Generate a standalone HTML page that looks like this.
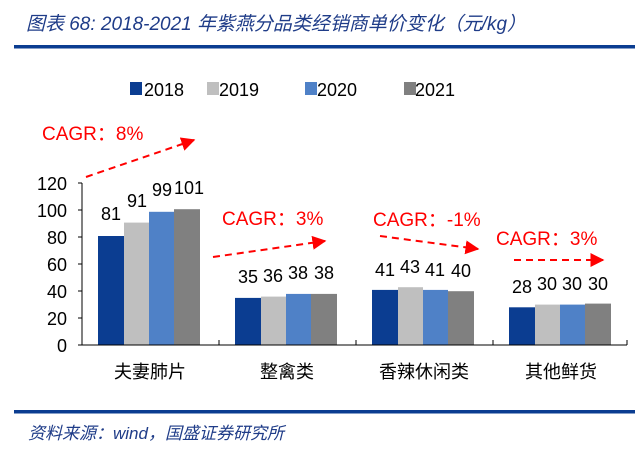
<!DOCTYPE html>
<html><head><meta charset="utf-8"><style>
body{margin:0;background:#fff;}
svg{display:block;}
text{font-family:"Liberation Sans","Noto Sans CJK SC",sans-serif;}
.c{font-family:"Liberation Serif","Noto Serif CJK SC",serif;font-size:18px;}
.v{font-size:18px;text-anchor:middle;fill:#000;}
.r{fill:#ff0000;font-size:19px;}
.t{font-size:18px;text-anchor:end;}
</style></head><body>
<svg width="635" height="463" viewBox="0 0 635 463">
<defs>
<marker id="a2" viewBox="0 0 10 10" markerWidth="14" markerHeight="14" refX="9" refY="5" orient="auto" markerUnits="userSpaceOnUse"><path d="M0,0 L10,5 L0,10 z" fill="#ff0000"/></marker></defs>
<text x="26" y="30" font-style="italic" font-size="19" fill="#1f3c88" textLength="500" lengthAdjust="spacingAndGlyphs">图表 68:  2018-2021 年紫燕分品类经销商单价变化（元/kg）</text>
<rect x="14" y="45" width="621" height="3.5" fill="#0b3d91"/>
<!-- legend -->
<rect x="130" y="82" width="12" height="13" fill="#0b3d91"/><text x="144" y="96" font-size="18">2018</text>
<rect x="207" y="82" width="12" height="13" fill="#bfbfbf"/><text x="219" y="96" font-size="18">2019</text>
<rect x="305" y="82" width="12" height="13" fill="#4f81c7"/><text x="317" y="96" font-size="18">2020</text>
<rect x="404" y="82" width="12" height="13" fill="#808080"/><text x="415" y="96" font-size="18">2021</text>
<!-- y ticks -->
<g class="t">
<text x="67" y="352">0</text><text x="67" y="325">20</text><text x="67" y="298">40</text><text x="67" y="271">60</text><text x="67" y="244">80</text><text x="67" y="217">100</text><text x="67" y="190">120</text>
</g>
<!-- bars -->
<g>
<rect x="98" y="236" width="26" height="109" fill="#0b3d91"/><rect x="124" y="222.6" width="25" height="122.4" fill="#bfbfbf"/><rect x="149" y="211.8" width="25" height="133.2" fill="#4f81c7"/><rect x="174" y="209.2" width="26" height="135.8" fill="#808080"/>
<rect x="235" y="297.9" width="26" height="47.1" fill="#0b3d91"/><rect x="261" y="296.6" width="25" height="48.4" fill="#bfbfbf"/><rect x="286" y="293.9" width="25" height="51.1" fill="#4f81c7"/><rect x="311" y="293.9" width="26" height="51.1" fill="#808080"/>
<rect x="372" y="289.9" width="26" height="55.1" fill="#0b3d91"/><rect x="398" y="287.2" width="25" height="57.8" fill="#bfbfbf"/><rect x="423" y="289.9" width="25" height="55.1" fill="#4f81c7"/><rect x="448" y="291.2" width="26" height="53.8" fill="#808080"/>
<rect x="509" y="307.3" width="26" height="37.7" fill="#0b3d91"/><rect x="535" y="304.6" width="25" height="40.4" fill="#bfbfbf"/><rect x="560" y="304.6" width="25" height="40.4" fill="#4f81c7"/><rect x="585" y="303.6" width="26" height="41.4" fill="#808080"/>
</g>
<!-- axes -->
<line x1="82" y1="183" x2="82" y2="345" stroke="#000"/>
<line x1="78" y1="345" x2="627" y2="345" stroke="#000"/>
<g stroke="#000"><line x1="78" y1="183" x2="82" y2="183"/><line x1="78" y1="210" x2="82" y2="210"/><line x1="78" y1="237" x2="82" y2="237"/><line x1="78" y1="264" x2="82" y2="264"/><line x1="78" y1="291" x2="82" y2="291"/><line x1="78" y1="318" x2="82" y2="318"/>
<line x1="219" y1="345" x2="219" y2="340"/><line x1="356" y1="345" x2="356" y2="340"/><line x1="493" y1="345" x2="493" y2="340"/><line x1="627" y1="345" x2="627" y2="340"/></g>
<!-- value labels -->
<g class="v">
<text x="111" y="220">81</text><text x="137" y="207">91</text><text x="162" y="196">99</text><text x="189" y="194">101</text>
<text x="248" y="283">35</text><text x="273" y="282">36</text><text x="298" y="279">38</text><text x="324" y="279">38</text>
<text x="385" y="276">41</text><text x="410" y="273">43</text><text x="435" y="276">41</text><text x="461" y="277">40</text>
<text x="522" y="293">28</text><text x="547" y="290">30</text><text x="572" y="290">30</text><text x="598" y="290">30</text>
</g>
<!-- categories -->
<g class="c" text-anchor="middle">
<text x="150" y="378">夫妻肺片</text><text x="287" y="378">整禽类</text><text x="424" y="378">香辣休闲类</text><text x="561" y="378">其他鲜货</text>
</g>
<!-- CAGR -->
<text class="r" x="42" y="140">CAGR：8%</text>
<text class="r" x="222" y="225">CAGR：3%</text>
<text class="r" x="373" y="226">CAGR：-1%</text>
<text class="r" x="496" y="245">CAGR：3%</text>
<g stroke="#ff0000" stroke-width="2" stroke-dasharray="7,5" fill="none">
<line x1="86" y1="177" x2="194" y2="140" marker-end="url(#a2)"/>
<line x1="213" y1="257" x2="325" y2="241" marker-end="url(#a2)"/>
<line x1="380" y1="236" x2="478" y2="249" marker-end="url(#a2)"/>
<line x1="514" y1="260" x2="603" y2="260" marker-end="url(#a2)"/>
</g>
<rect x="14" y="410" width="621" height="3.5" fill="#0b3d91"/>
<text x="28" y="439" font-style="italic" font-size="17" fill="#1f3c88">资料来源：wind，国盛证券研究所</text>
</svg>
</body></html>
